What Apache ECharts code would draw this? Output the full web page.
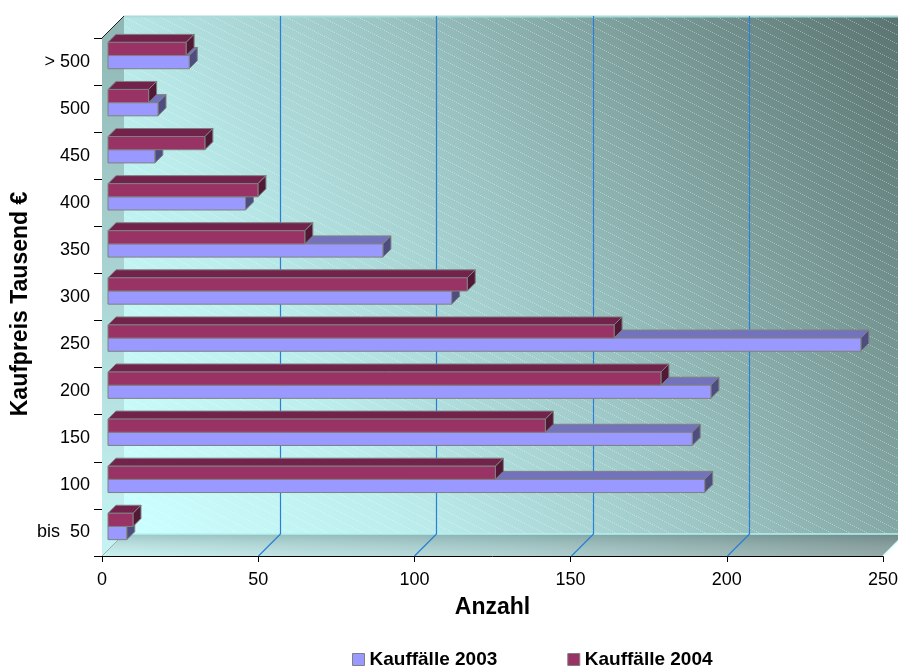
<!DOCTYPE html>
<html>
<head>
<meta charset="utf-8">
<script src="https://cdn.jsdelivr.net/npm/echarts@6/dist/echarts.min.js"></script>
<style>
html,body{margin:0;padding:0;background:#fff;}
#chart{width:898px;height:669px;}
</style>
</head>
<body>
<div id="chart"></div>
<script>
// ---- data ----
const categories = ['bis  50', '100', '150', '200', '250', '300', '350', '400', '450', '500', '> 500'];
const kauf2003 = [6, 191, 187, 193, 241, 110, 88, 44, 15, 16, 26];
const kauf2004 = [8, 124, 140, 177, 162, 115, 63, 48, 31, 13, 25];
const xTicks = [0, 50, 100, 150, 200, 250];
const seriesNames = ['Kauffälle 2003', 'Kauffälle 2004'];

const FONT = '"Liberation Sans", Arial, sans-serif';

// hatch pattern
const hatch = document.createElement('canvas');
hatch.width = 18; hatch.height = 9;
(function () {
  const c = hatch.getContext('2d');
  c.fillStyle = 'rgba(255,255,255,0.36)';
  for (let x = 0; x < 18; x += 2) c.fillRect(x, Math.floor(x / 2), 1, 1);
})();

const D = 22; // depth of the box

function renderWalls(params, api) {
  const cs = params.coordSys;
  const gx = cs.x, gy = cs.y, gw = cs.width, gh = cs.height;
  const ch = [];
  const back = { x: gx + D, y: gy - D, width: gw, height: gh };
  ch.push({ type: 'rect', shape: back, silent: true,
    style: { fill: new echarts.graphic.LinearGradient(0, 1, 1, 0, [
      { offset: 0, color: '#ccffff' },
      { offset: 0.25, color: '#bdeeee' },
      { offset: 0.5, color: '#9fc9c8' },
      { offset: 0.75, color: '#7c9e9b' },
      { offset: 1, color: '#5a7370' }]) } });
  ch.push({ type: 'rect', shape: back, silent: true,
    style: { fill: { image: hatch, repeat: 'repeat' } } });
  // left wall
  ch.push({ type: 'polygon', silent: true,
    shape: { points: [[gx, gy], [gx + D, gy - D], [gx + D, gy + gh - D], [gx, gy + gh]] },
    style: { fill: new echarts.graphic.LinearGradient(0, 0, 0, 1, [
      { offset: 0, color: '#8fb6b4' },
      { offset: 1, color: '#c6f4f4' }]) } });
  // floor
  ch.push({ type: 'polygon', silent: true,
    shape: { points: [[gx, gy + gh], [gx + D, gy + gh - D], [gx + gw + D, gy + gh - D], [gx + gw, gy + gh]] },
    style: { fill: new echarts.graphic.LinearGradient(0, 0, 1, 0, [
      { offset: 0, color: '#c2eeee' },
      { offset: 0.5, color: '#a4cccb' },
      { offset: 1, color: '#7e9896' }]) } });
  ch.push({ type: 'polygon', silent: true,
    shape: { points: [[gx, gy + gh], [gx + D, gy + gh - D], [gx + gw + D, gy + gh - D], [gx + gw, gy + gh]] },
    style: { fill: new echarts.graphic.LinearGradient(0, 0, 0, 1, [
      { offset: 0, color: 'rgba(60,90,90,0.25)' },
      { offset: 1, color: 'rgba(255,255,255,0.15)' }]) } });
  // edges
  ch.push({ type: 'line', silent: true, shape: { x1: gx + D, y1: gy - D + 0.5, x2: gx + gw + D, y2: gy - D + 0.5 },
    style: { stroke: '#a9dcd9', lineWidth: 2 } });
  ch.push({ type: 'line', silent: true, shape: { x1: gx + D, y1: gy + gh - D, x2: gx + gw + D, y2: gy + gh - D },
    style: { stroke: '#b5f2f2', lineWidth: 1.5 } });
  ch.push({ type: 'line', silent: true, shape: { x1: gx, y1: gy, x2: gx + D, y2: gy - D },
    style: { stroke: '#222', lineWidth: 1 } });
  ch.push({ type: 'line', silent: true, shape: { x1: gx, y1: gy + gh, x2: gx + D, y2: gy + gh - D },
    style: { stroke: '#9ab0b0', lineWidth: 1 } });
  ch.push({ type: 'line', silent: true, shape: { x1: gx + gw, y1: gy + gh, x2: gx + gw + D, y2: gy + gh - D },
    style: { stroke: '#d8ffff', lineWidth: 1.5 } });
  // grid lines
  xTicks.forEach(function (v) {
    if (v === xTicks[0] || v === xTicks[xTicks.length - 1]) return;
    const px = Math.round(api.coord([v, 0])[0]) + 0.5;
    ch.push({ type: 'line', silent: true, shape: { x1: px + D, y1: gy - D, x2: px + D, y2: gy + gh - D },
      style: { stroke: '#2a7fd6', lineWidth: 1.2 } });
    ch.push({ type: 'line', silent: true, shape: { x1: px + D, y1: gy + gh - D, x2: px, y2: gy + gh },
      style: { stroke: '#2a7fd6', lineWidth: 1.2 } });
  });
  return { type: 'group', children: ch };
}

function makeBarRender(slot, front, top, side) {
  return function (params, api) {
    const v = api.value(0), ci = api.value(1);
    const p0 = api.coord([0, ci]);
    const p1 = api.coord([v, ci]);
    const band = api.size([0, 1])[1];
    const h = band * 0.28;
    const s = 6, d = 8;
    const x0 = p0[0] + s, x1 = p1[0] + s;
    const yT = (slot === 0 ? p0[1] : p0[1] - h) - s;
    const stroke = { stroke: '#808080', lineWidth: 1 };
    return { type: 'group', children: [
      { type: 'polygon', shape: { points: [[x0, yT], [x0 + d, yT - d], [x1 + d, yT - d], [x1, yT]] },
        style: Object.assign({ fill: top }, stroke) },
      { type: 'polygon', shape: { points: [[x1, yT], [x1 + d, yT - d], [x1 + d, yT + h - d], [x1, yT + h]] },
        style: Object.assign({ fill: side }, stroke) },
      { type: 'rect', shape: { x: x0, y: yT, width: x1 - x0, height: h },
        style: Object.assign({ fill: front }, stroke) }
    ] };
  };
}

const data2003 = kauf2003.map(function (v, i) { return [v, i]; });
const data2004 = kauf2004.map(function (v, i) { return [v, i]; });

const chart = echarts.init(document.getElementById('chart'), null, { renderer: 'canvas' });
chart.setOption({
  animation: false,
  backgroundColor: '#ffffff',
  grid: { left: 102, right: 15, top: 38, bottom: 113, containLabel: false, outerBoundsMode: 'none' },
  legend: {
    data: seriesNames,
    left: 347, top: 645,
    icon: 'rect', itemWidth: 12, itemHeight: 12, itemGap: 70,
    itemStyle: { borderColor: '#808080', borderWidth: 1 },
    textStyle: { fontFamily: FONT, fontWeight: 'bold', fontSize: 19, color: '#000' }
  },
  xAxis: {
    type: 'value', min: 0, max: 250, interval: 50,
    name: 'Anzahl', nameLocation: 'middle', nameGap: 40,
    nameTextStyle: { fontFamily: FONT, fontWeight: 'bold', fontSize: 23, color: '#000' },
    axisLine: { show: true, lineStyle: { color: '#000', width: 1 } },
    axisTick: { show: true, length: 6, lineStyle: { color: '#000' } },
    axisLabel: { fontFamily: FONT, fontSize: 18, color: '#000', margin: 15 },
    splitLine: { show: false }
  },
  yAxis: {
    type: 'category', data: categories,
    name: 'Kaufpreis Tausend €', nameLocation: 'middle', nameGap: 70, nameRotate: 90,
    nameMoveOverlap: false,
    nameTextStyle: { fontFamily: FONT, fontWeight: 'bold', fontSize: 23, color: '#000', padding: [0, 14, 0, 0] },
    axisLine: { show: true, lineStyle: { color: '#000', width: 1 } },
    axisTick: { show: true, length: 8, lineStyle: { color: '#000' } },
    axisLabel: { fontFamily: FONT, fontSize: 18, color: '#000', margin: 12 },
    splitLine: { show: false }
  },
  series: [
    { type: 'custom', name: 'walls', silent: true, data: [[0, 0]], encode: { x: 0, y: 1 },
      renderItem: renderWalls, z: 1 },
    { type: 'custom', name: seriesNames[0], data: data2003, encode: { x: 0, y: 1 },
      itemStyle: { color: '#9999ff' },
      renderItem: makeBarRender(0, '#9999ff', '#7373bd', '#4d4d80'), z: 2 },
    { type: 'custom', name: seriesNames[1], data: data2004, encode: { x: 0, y: 1 },
      itemStyle: { color: '#993366' },
      renderItem: makeBarRender(1, '#993366', '#72234b', '#521936'), z: 2 }
  ]
});
</script>
</body>
</html>
